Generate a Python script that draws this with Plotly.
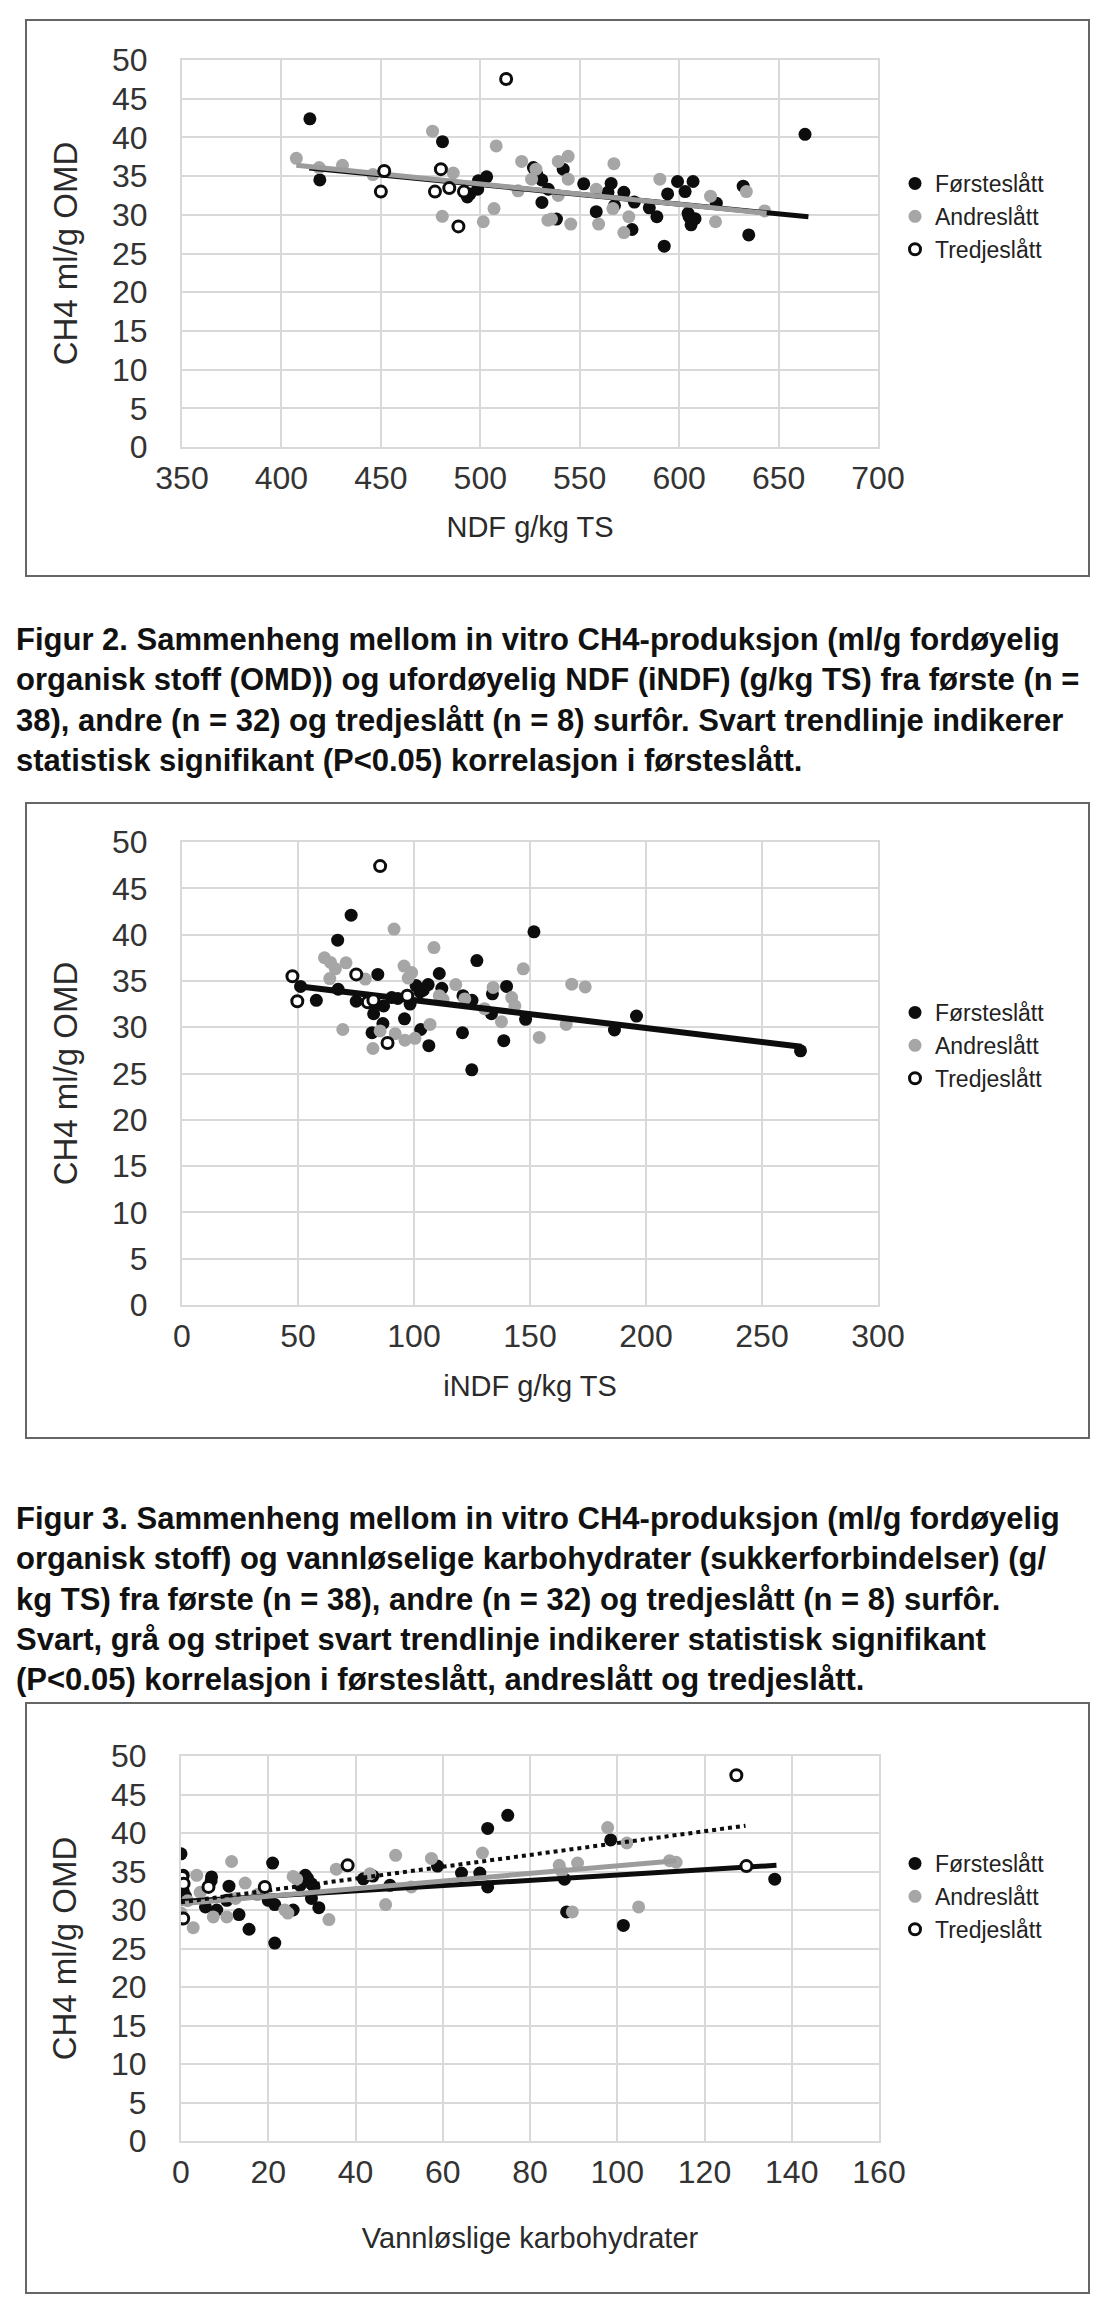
import plotly.graph_objects as go

W, H = 1100, 2297
FONT = "Liberation Sans"
TICKFONT = "Liberation Sans Narrow, Liberation Sans"
GRID = "#d9d9d9"
BLACK = "#0d0d0d"
GRAY = "#a6a6a6"

series_names = ["Førsteslått", "Andreslått", "Tredjeslått"]

# ---------------- Chart 1: NDF g/kg TS vs CH4 ----------------
ndf_first_x = [414.3, 419.3, 481, 493.5, 494.8, 498.7, 499, 503.2, 526.7, 528.5, 530.9, 531, 534.2,
               538.3, 541.7, 552, 558.3, 564.2, 565.8, 567.5, 572.2, 576.3, 577.5, 585, 588.8, 592.5,
               594.2, 599.2, 603, 604.5, 605, 606, 607, 608, 618.7, 632.2, 635, 663.3]
ndf_first_y = [42.4, 34.5, 39.45, 32.3, 32.7, 33.3, 34.4, 34.9, 36.1, 35.2, 34.5, 31.6, 33.3,
               29.45, 35.9, 34.0, 30.4, 32.9, 34.05, 31.2, 32.9, 28.1, 31.65, 30.9, 29.75, 25.95,
               32.7, 34.3, 33.0, 30.2, 29.75, 28.7, 34.3, 29.5, 31.5, 33.7, 27.4, 40.4]
ndf_second_x = [407.5, 419, 430.7, 446, 476, 486.4, 480.9, 501.5, 506.9, 508, 519, 520.8, 525.8,
                528, 534, 535.8, 539.2, 539.2, 544.2, 544.2, 545.5, 558.3, 559.5, 566.7, 567.2,
                572.2, 574.7, 590.3, 615.8, 618.3, 633.8, 643]
ndf_second_y = [37.3, 36.1, 36.4, 35.2, 40.8, 35.4, 29.8, 29.1, 30.8, 38.9, 33.1, 36.9, 34.6,
                35.9, 29.3, 29.45, 36.9, 32.5, 37.55, 34.6, 28.8, 33.3, 28.8, 30.8, 36.6,
                27.7, 29.75, 34.6, 32.4, 29.1, 33.0, 30.5]
ndf_third_x = [513, 451.7, 450, 480.2, 477.2, 484.4, 491.8, 489]
ndf_third_y = [47.55, 35.65, 33.0, 35.9, 33.0, 33.45, 33.0, 28.5]
ndf_trend_first_x = [414, 665]
ndf_trend_first_y = [36.05, 29.75]
ndf_trend_second_x = [407.5, 644]
ndf_trend_second_y = [36.4, 30.2]

# ---------------- Chart 2: iNDF g/kg TS vs CH4 ----------------
indf_first_x = [72.9, 67.1, 84.4, 110.9, 127.1, 51.1, 67.3, 57.9, 75.1, 83.3, 86.9, 82.6, 90.4,
                98.3, 100.9, 102.6, 106.1, 121.1, 125, 95.9, 86.6, 81.9, 102.9, 106.4, 120.9,
                124.9, 151.7, 139.9, 133.8, 133.4, 148.1, 138.7, 186.4, 195.9, 266.6, 104, 112, 93]
indf_first_y = [42.1, 39.4, 35.7, 35.8, 37.2, 34.4, 34.1, 32.9, 32.8, 32.5, 32.3, 31.45, 33.2,
                32.5, 34.5, 33.8, 34.6, 33.4, 32.9, 30.9, 30.4, 29.4, 29.75, 28.0, 29.4,
                25.4, 40.3, 34.4, 33.6, 31.45, 30.85, 28.55, 29.7, 31.2, 27.45, 34.0, 34.2, 33.1]
indf_second_x = [91.4, 108.6, 61.4, 64, 66.1, 70.7, 63.7, 79, 95.7, 99, 118, 110.9, 121.9, 69.3,
                 85.4, 91.9, 96.1, 100.4, 106.9, 82.3, 130.4, 147.1, 134.1, 142.1, 143.5, 168,
                 173.8, 137.7, 165.6, 154, 97.5, 112.5]
indf_second_y = [40.6, 38.6, 37.5, 37.0, 36.3, 36.95, 35.25, 35.2, 36.6, 35.9, 34.6, 33.4, 33.05,
                 29.75, 29.6, 29.3, 28.6, 28.8, 30.3, 27.7, 32.0, 36.3, 34.3, 33.2, 32.3, 34.65,
                 34.35, 30.6, 30.3, 28.9, 35.3, 33.0]
indf_third_x = [85.4, 47.6, 75.1, 49.7, 80.1, 97.1, 88.6, 82.5]
indf_third_y = [47.4, 35.5, 35.7, 32.8, 32.7, 33.4, 28.3, 32.9]
indf_trend_first_x = [51, 267]
indf_trend_first_y = [34.4, 27.9]

# ---------------- Chart 3: Vannløselige karbohydrater vs CH4 ----------------
wsc_first_x = [0, 0.5, 0.5, 6.9, 5.6, 8.2, 11, 13.3, 15.6, 21, 20, 21.5, 21.5, 25.7, 29, 29.9,
               30.5, 27.3, 29.9, 31.6, 41.8, 58.8, 64.3, 68.5, 70.3, 74.9, 70.3, 87.9, 88.4,
               98.5, 101.4, 136.1, 10.5, 1.0, 7.0, 47.9, 28.5, 44]
wsc_first_y = [37.3, 34.5, 32.5, 33.8, 30.4, 30.0, 33.1, 29.4, 27.5, 36.1, 31.25, 30.7, 25.7,
               30.0, 34.1, 33.4, 33.0, 33.2, 31.5, 30.3, 34.05, 35.7, 34.8, 34.8, 40.6, 42.3,
               33.0, 34.0, 29.75, 39.1, 28.0, 34.0, 31.25, 31.8, 34.3, 33.2, 34.5, 34.4]
wsc_second_x = [0, 3.6, 4.4, 2.8, 7.4, 10.5, 11.6, 14.7, 23.8, 25.7, 33.9, 35.6, 43.3, 49.2,
                46.9, 57.4, 69.1, 86.7, 90.9, 87.3, 89.7, 97.8, 102.2, 104.9, 112, 113.5, 52.8,
                24.5, 26.5, 12.5, 17.5, 1.5]
wsc_second_y = [29.6, 34.5, 32.3, 27.7, 29.1, 29.1, 36.3, 33.5, 30.0, 34.35, 28.75, 35.3, 34.7,
                37.1, 30.7, 36.7, 37.4, 35.8, 36.1, 35.0, 29.75, 40.7, 38.7, 30.4, 36.4, 36.2,
                33.0, 29.6, 34.0, 31.5, 32.0, 31.2]
wsc_third_x = [127.3, 129.6, 38.2, 19.2, 6.3, 0.3, 0.6, 0.5]
wsc_third_y = [47.5, 35.7, 35.8, 33.0, 33.0, 34.3, 33.4, 28.9]
wsc_trend_first_x = [0, 136.5]
wsc_trend_first_y = [31.1, 35.8]
wsc_trend_second_x = [0, 113.5]
wsc_trend_second_y = [30.8, 36.4]
wsc_trend_third_x = [0, 129.4]
wsc_trend_third_y = [31.0, 40.95]

y_ticks = list(range(0, 51, 5))

captions = {
    2: ("Figur 2. Sammenheng mellom in vitro CH4-produksjon (ml/g fordøyelig<br>"
        "organisk stoff (OMD)) og ufordøyelig NDF (iNDF) (g/kg TS) fra første (n =<br>"
        "38), andre (n = 32) og tredjeslått (n = 8) surfôr. Svart trendlinje indikerer<br>"
        "statistisk signifikant (P&lt;0.05) korrelasjon i førsteslått."),
    3: ("Figur 3. Sammenheng mellom in vitro CH4-produksjon (ml/g fordøyelig<br>"
        "organisk stoff) og vannløselige karbohydrater (sukkerforbindelser) (g/<br>"
        "kg TS) fra første (n = 38), andre (n = 32) og tredjeslått (n = 8) surfôr.<br>"
        "Svart, grå og stripet svart trendlinje indikerer statistisk signifikant<br>"
        "(P&lt;0.05) korrelasjon i førsteslått, andreslått og tredjeslått."),
}


def px_x(p):
    return p / W


def px_y(p):
    return 1 - p / H


fig = go.Figure()

charts = [
    dict(xs=[ndf_first_x, ndf_second_x, ndf_third_x], ys=[ndf_first_y, ndf_second_y, ndf_third_y],
         trends=[(ndf_trend_first_x, ndf_trend_first_y, BLACK, "solid", 5),
                 (ndf_trend_second_x, ndf_trend_second_y, "#9c9c9c", "solid", 5)],
         xrange=[350, 700], dtick=50, xtitle="NDF g/kg TS", xstandoff=21,
         plot=(174, 870, 52, 439), legend_top=154),
    dict(xs=[indf_first_x, indf_second_x, indf_third_x], ys=[indf_first_y, indf_second_y, indf_third_y],
         trends=[(indf_trend_first_x, indf_trend_first_y, BLACK, "solid", 6)],
         xrange=[0, 300], dtick=50, xtitle="iNDF g/kg TS", xstandoff=22,
         plot=(174, 870, 834, 1297), legend_top=983),
    dict(xs=[wsc_first_x, wsc_second_x, wsc_third_x], ys=[wsc_first_y, wsc_second_y, wsc_third_y],
         trends=[(wsc_trend_first_x, wsc_trend_first_y, BLACK, "solid", 5),
                 (wsc_trend_second_x, wsc_trend_second_y, "#9c9c9c", "solid", 5),
                 (wsc_trend_third_x, wsc_trend_third_y, BLACK, "dot", 4)],
         xrange=[0, 160], dtick=20, xtitle="Vannløslige karbohydrater", xstandoff=38,
         plot=(173, 871, 1748, 2133), legend_top=1834),
]

boxes = [(18, 1081, 12, 568), (18, 1081, 795, 1430), (18, 1081, 1695, 2285)]

layout_updates = {}
shapes = []
for i, c in enumerate(charts):
    n = i + 1
    xa = "x" if n == 1 else f"x{n}"
    ya = "y" if n == 1 else f"y{n}"
    lg = "legend" if n == 1 else f"legend{n}"
    styles = [
        dict(color=BLACK, size=13, line=dict(width=0)),
        dict(color=GRAY, size=13, line=dict(width=0)),
        dict(color="white", size=11, line=dict(width=3, color=BLACK)),
    ]
    for k in range(2):
        fig.add_trace(go.Scatter(x=c["xs"][k], y=c["ys"][k], mode="markers", name=series_names[k],
                                 marker=styles[k], xaxis=xa, yaxis=ya, legend=lg))
    for tx, ty, col, dash, wd in c["trends"]:
        fig.add_trace(go.Scatter(x=tx, y=ty, mode="lines", line=dict(color=col, dash=dash, width=wd),
                                 showlegend=False, hoverinfo="skip", xaxis=xa, yaxis=ya))
    fig.add_trace(go.Scatter(x=c["xs"][2], y=c["ys"][2], mode="markers", name=series_names[2],
                             marker=styles[2], xaxis=xa, yaxis=ya, legend=lg))

    l, r, t, b = c["plot"]
    common = dict(showgrid=True, gridcolor=GRID, gridwidth=2, zeroline=False, showline=True,
                  mirror=True, linecolor=GRID, linewidth=2, ticks="",
                  tickfont=dict(family=TICKFONT, size=32, color="#333333"),
                  fixedrange=True)
    layout_updates["xaxis" if n == 1 else f"xaxis{n}"] = dict(
        common, domain=[px_x(l), px_x(r)], range=c["xrange"], dtick=c["dtick"], tick0=0,
        anchor=ya, ticklabelstandoff=2,
        title=dict(text=c["xtitle"], font=dict(family=FONT, size=29, color="#2a2a2a"),
                   standoff=c["xstandoff"]))
    layout_updates["yaxis" if n == 1 else f"yaxis{n}"] = dict(
        common, domain=[px_y(b), px_y(t)], range=[0, 50], tickvals=y_ticks,
        anchor=xa, ticklabelstandoff=26,
        title=dict(text="CH4 ml/g OMD", font=dict(family=FONT, size=33, color="#2a2a2a"), standoff=24))
    layout_updates[lg] = dict(x=px_x(887), y=px_y(c["legend_top"]), xanchor="left", yanchor="top",
                              font=dict(family=FONT, size=23, color="#222222"),
                              bgcolor="rgba(0,0,0,0)", itemwidth=30, tracegroupgap=0)
    bl, br, bt, bb = boxes[i]
    shapes.append(dict(type="rect", xref="paper", yref="paper", x0=px_x(bl), x1=px_x(br),
                       y0=px_y(bb), y1=px_y(bt), line=dict(color="#666666", width=2),
                       fillcolor="rgba(0,0,0,0)", layer="below"))

annotations = [
    dict(text="<b>" + captions[2] + "</b>", xref="paper", yref="paper", x=px_x(6), y=px_y(612),
         xanchor="left", yanchor="top", align="left", showarrow=False,
         font=dict(family=FONT, size=31, color="#111111")),
    dict(text="<b>" + captions[3] + "</b>", xref="paper", yref="paper", x=px_x(6), y=px_y(1491),
         xanchor="left", yanchor="top", align="left", showarrow=False,
         font=dict(family=FONT, size=31, color="#111111")),
]

fig.update_layout(
    width=W, height=H,
    margin=dict(l=0, r=0, t=0, b=0, autoexpand=False),
    paper_bgcolor="white", plot_bgcolor="white",
    font=dict(family=FONT),
    shapes=shapes, annotations=annotations,
    **layout_updates,
)

fig.write_html("out.html")
